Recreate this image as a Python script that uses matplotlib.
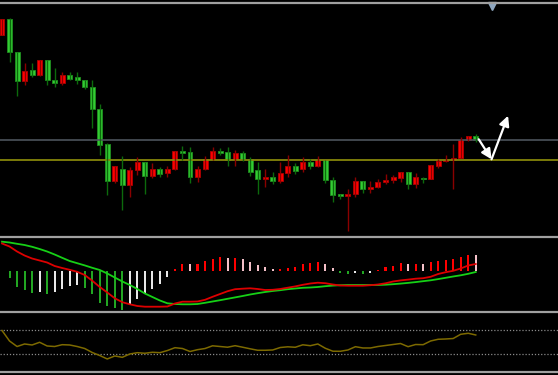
import numpy as np
import matplotlib
matplotlib.use("Agg")
import matplotlib.pyplot as plt

# --- price candles (arbitrary price units) ---
opens = [215, 230.7, 197.7, 169, 180, 175.3, 190, 170, 167, 174.7, 173, 170, 163.3, 141, 105.7, 68.7,
         81, 65, 80, 88, 74, 81, 77.3, 81, 98.7, 98.3, 73, 81, 91, 98.7, 97.7, 90.7,
         97, 91.3, 80, 70.7, 73.3, 69, 77.3, 84.3, 80.7, 88, 84, 90.3, 70, 55.7,
         54, 56, 69, 61, 63, 68.3, 70.3, 72.3, 78.3, 65.7, 72.5, 71, 84.3, 88.8, 90.3, 92, 110, 113.7]
highs = [231, 232, 198, 187, 187, 190, 190, 182, 178, 178, 178, 170, 170, 146, 107, 84,
         94, 83.5, 93, 88, 87.3, 83.3, 84, 99, 104, 102.7, 84.3, 94, 102.7, 102, 102.7, 100,
         99, 92.7, 88, 80.7, 78.3, 88, 95.3, 86.7, 92.7, 90.7, 94.3, 90.5, 73.3, 56,
         60.7, 72.7, 69, 69, 70.7, 76.3, 75, 78.5, 78.5, 76.7, 73, 85, 90.7, 95.5, 105.7, 113, 114.5, 116.3]
lows = [215, 188, 154, 165, 173, 174, 165, 163, 165, 170.5, 166, 161, 122, 95, 55, 67,
        40, 53, 75, 56, 71.7, 72.7, 72.7, 80.5, 90, 66.7, 68, 80.5, 90, 94.7, 84, 84.3,
        88.7, 74, 56, 63.3, 66, 66.7, 73.3, 76, 78.3, 80.7, 83.5, 66.7, 48.3, 51.3,
        19, 53.3, 57.3, 57.3, 62.3, 66, 66.7, 68, 61.3, 62, 67.3, 70.7, 81.8, 88.5, 61, 91.7, 109.5, 108]
closes = [231, 197.7, 169, 179, 175.3, 189.7, 170, 167, 175, 171.3, 169.7, 163, 140.7, 104.7, 68.7, 84,
          65, 80.5, 88, 74, 81, 76, 81, 98.7, 97.3, 73, 81.3, 91, 98.7, 97, 90, 97,
          90.7, 77.7, 70.7, 73.3, 69, 77.3, 84.3, 79, 88, 84, 90.3, 70, 55, 54,
          56, 69, 61, 63, 68.3, 70.3, 72.7, 78.3, 65.7, 72.7, 71.2, 84.7, 88.8, 90.3, 92.3, 110, 114.3, 110]
level_upper = 110
level_lower = 90

# --- MACD panel ---
macd_red = [27.5, 24.5, 19.5, 15.5, 12.5, 10.5, 8.5, 5, 3, 1.2, -0.8, -4, -9.7, -16, -21.5, -27.3,
            -31.2, -33.3, -35, -35.7, -35.7, -35.7, -35.5, -32.5, -30.7, -30.7, -30.5, -28.8, -25.8, -23, -20.2, -18.2,
            -17.7, -17.3, -18, -19, -18.8, -18, -16.7, -15.4, -13.8, -12.5, -11.7, -12.2, -13.5, -14.5,
            -14.7, -14.7, -14.7, -14.2, -13.5, -12.3, -10.5, -9.4, -8.6, -7.7, -7.2, -5.8, -3, -1.2, 0.2, 2.5, 5.5, 7]
macd_green = [29.3, 28.5, 27.2, 26, 24.2, 22, 19.5, 16.5, 13.2, 10, 7.8, 5.6, 3.2, 1, -2.5, -6.5,
              -10.5, -14, -18, -22.5, -26, -29.5, -32.3, -33, -33.3, -33.3, -33, -31.8, -30.5, -29.2, -27.8, -26.4,
              -25, -23.5, -22.2, -21, -20, -19.2, -18.2, -17.5, -16.8, -16.5, -16, -15.2, -14.6, -14.2,
              -14, -14, -14, -14, -14, -13.7, -13.2, -12.6, -11.9, -11.1, -10.2, -9.3, -8.1, -6.8, -5.5, -4.3, -2.8, -1]
macd_hist = [np.nan, -7.3, -16, -19.3, -22.3, -21.3, -22.7, -21.3, -18, -15.3, -14, -16.7, -22.7, -32, -34.7, -37,
             -39, -33.3, -28.3, -23, -18.3, -12.7, -6.3, 1.7, 7, 6.7, 7, 10, 12, 13.7, 12.7, 13,
             12, 9.3, 6.3, 4, 2.3, 2.5, 3.3, 4.3, 6.7, 7.7, 9, 7, 2.7, -1.7,
             -3, -2.3, -2.5, -1.7, 1.3, 3.7, 5.3, 7.7, 7, 7.5, 6.7, 8.7, 10, 11, 11.7, 14, 15.7, 15.7]
hist_cols = ["g", "g", "g", "g", "g", "w", "g", "w", "w", "w", "w", "g", "g", "g", "g", "g",
             "g", "w", "w", "w", "w", "w", "w", "r", "r", "p", "r", "r", "r", "r", "p", "r",
             "p", "p", "p", "p", "p", "r", "r", "r", "r", "r", "r", "p", "p", "g",
             "g", "w", "g", "w", "r", "r", "r", "r", "p", "r", "p", "r", "r", "r", "r", "r", "r", "p"]

# --- RSI panel ---
rsi = [69.7, 51.9, 42.5, 46.8, 45.1, 49.7, 43.4, 42.5, 45.6, 45.1, 42.5, 39.1, 32.3, 27.2, 21.3, 26.4,
       24.1, 29.8, 32.0, 31.0, 32.7, 32.0, 35.7, 40.5, 39.1, 34.0, 37.1, 39.1, 43.7, 42.5, 41.3, 43.9,
       41.3, 38.6, 36.1, 36.1, 36.6, 40.8, 42.0, 41.2, 45.4, 43.9, 46.8, 39.5, 34.5, 34.4,
       36.6, 42.2, 40.0, 40.0, 42.5, 44.2, 45.9, 47.6, 42.2, 45.9, 45.6, 51.9, 54.8, 55.3, 56.1, 63.3, 65.0, 62.1]
rsi_levels = [70, 30]

# arrows drawn on the chart (bar index, price)
arrow_start = (63.4, 110.7)
arrow_vertex = (65.1, 90.7)
arrow_end = (67.3, 134.3)

W, H = 558, 375
fig = plt.figure(figsize=(W / 100, H / 100), dpi=100, facecolor="black")

def add_ax(top_px, bot_px):
    ax = fig.add_axes([0, 1 - bot_px / H, 1, (bot_px - top_px) / H])
    ax.set_facecolor("black")
    for s in ax.spines.values():
        s.set_visible(False)
    ax.set_xticks([])
    ax.set_yticks([])
    ax.set_xlim(-0.266, 73.94)
    return ax

x = np.arange(len(opens))

# price panel
ax1 = add_ax(4, 236)
ax1.set_ylim(14, 246)
ax1.axhline(level_upper, color="#4c535c", lw=1.2)
ax1.axhline(level_lower, color="#86860a", lw=1.3)
o = np.array(opens); c = np.array(closes)
up = c >= o
wick_col = np.where(up, "#8a0000", "#0c6a0c")
body_col = np.where(up, "#ff0000", "#33cc33")
edge_col = np.where(up, "#b00000", "#1f8f1f")
ax1.vlines(x, lows, highs, colors=wick_col, lw=1.0)
bot = np.minimum(o, c)
hgt = np.maximum(np.abs(c - o), 1.3)
ax1.bar(x, hgt, bottom=bot, width=0.66, color=body_col, edgecolor=edge_col, linewidth=0.6)

ax1.annotate("", xy=arrow_vertex, xytext=arrow_start,
             arrowprops=dict(arrowstyle="-|>,head_length=0.6,head_width=0.3", color="white", lw=1.6,
                             shrinkA=0, shrinkB=0))
ax1.annotate("", xy=arrow_end, xytext=arrow_vertex,
             arrowprops=dict(arrowstyle="-|>,head_length=0.6,head_width=0.3", color="white", lw=1.6,
                             shrinkA=0, shrinkB=0))
ax1.plot([arrow_vertex[0]], [244.5], marker="v", ms=6, color="#8ea6bf", clip_on=False)

# MACD panel
ax2 = add_ax(237.5, 312)
ax2.set_ylim(-41, 33.5)
cmap = {"g": "#22a622", "w": "#e8e8e8", "r": "#ff0000", "p": "#f4c0c8"}
ax2.bar(x, macd_hist, width=0.27, color=[cmap[k] for k in hist_cols])
ax2.plot(x, macd_green, color="#16d016", lw=1.3)
ax2.plot(x, macd_red, color="#dd0000", lw=1.3)

# RSI panel
ax3 = add_ax(312.7, 371.5)
ax3.set_ylim(0, 100)
for lv in rsi_levels:
    ax3.axhline(lv, color="#8a8a8a", lw=0.9, ls=(0, (1, 1.5)))
ax3.plot(x, rsi, color="#7d6a00", lw=1.1)

# separator lines
for yp in [2.7, 236.7, 312.3, 372.3]:
    fig.add_artist(plt.Line2D([0, 1], [1 - yp / H, 1 - yp / H], color="#a0a0a0", lw=1.6,
                              transform=fig.transFigure))

fig.savefig("out.png", dpi=100, facecolor="black")
